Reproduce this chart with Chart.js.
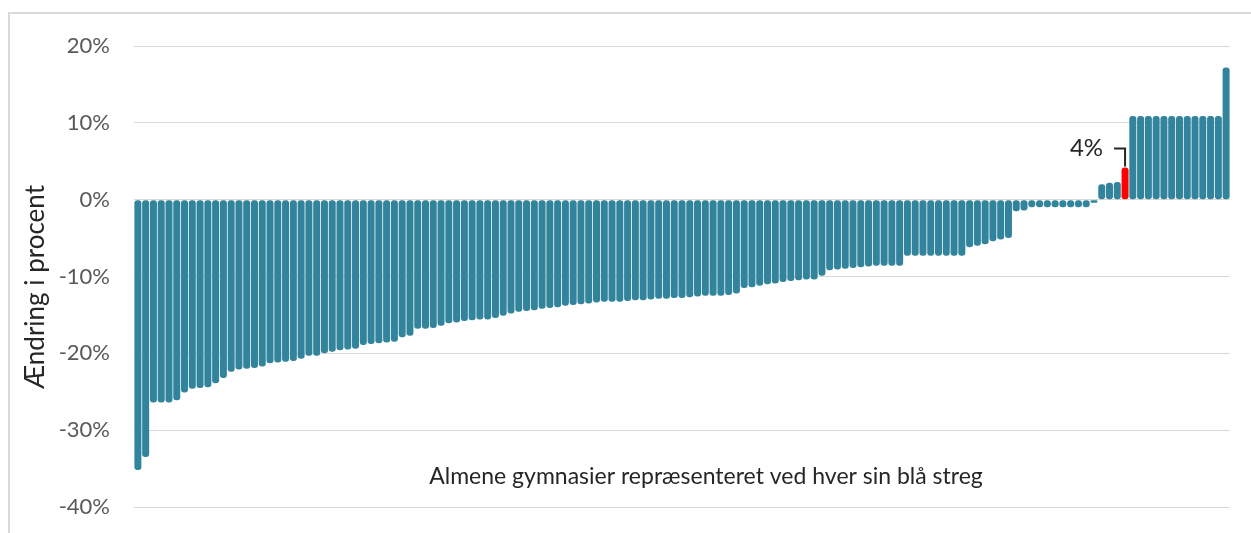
<!DOCTYPE html>
<html>
<head>
<meta charset="utf-8">
<script src="https://cdn.jsdelivr.net/npm/chart.js@4/dist/chart.umd.min.js"></script>
<style>
  html, body { margin: 0; padding: 0; background: #fff; overflow: hidden; }
  #frame { position: absolute; left: 8px; top: 12px; width: 1300px; height: 600px; border: 2px solid #d9d9d9; }
  #chartBox { position: absolute; left: 0; top: 0; width: 1251px; height: 533px; }
</style>
</head>
<body>
<div id="frame"></div>
<div id="chartBox"><canvas id="changeChart" width="1251" height="533"></canvas></div>
<script>
// Change per school in percent, sorted from lowest to highest
const changePct = [
  -35.2, -33.5, -26.4, -26.4, -26.4, -26.1, -25.1, -24.6, -24.5, -24.4,
  -23.9, -23.2, -22.4, -22.1, -22.0, -21.9, -21.7, -21.3, -21.2, -21.1,
  -21.0, -20.7, -20.3, -20.3, -20.0, -19.8, -19.6, -19.5, -19.4, -18.9,
  -18.8, -18.7, -18.6, -18.5, -17.9, -17.7, -16.8, -16.8, -16.7, -16.4,
  -16.1, -16.0, -15.8, -15.7, -15.6, -15.6, -15.4, -15.1, -14.8, -14.6,
  -14.5, -14.4, -14.2, -14.1, -14.0, -13.8, -13.7, -13.6, -13.5, -13.4,
  -13.3, -13.3, -13.3, -13.2, -13.1, -13.1, -13.0, -12.9, -12.9, -12.8,
  -12.8, -12.7, -12.6, -12.5, -12.5, -12.5, -12.4, -12.2, -11.5, -11.4,
  -11.2, -11.0, -10.9, -10.7, -10.6, -10.5, -10.4, -10.4, -9.9, -9.2,
  -9.1, -9.0, -8.9, -8.8, -8.7, -8.6, -8.6, -8.6, -8.6,
  -7.3, -7.3, -7.3, -7.3, -7.3, -7.3, -7.3, -7.3,
  -6.2, -6.0, -5.8, -5.4, -5.2, -5.0,
  -1.5, -1.4, -1.0, -1.0, -1.0, -1.0, -1.0, -1.0, -1.0, -1.0,
  -0.4,
  2.0, 2.2, 2.3,
  4.2,
  10.9, 10.9, 10.9, 10.9, 10.9, 10.9, 10.9, 10.9, 10.9, 10.9, 10.9, 10.9,
  17.2
];
const schools = changePct.map((v, i) => 'Gymnasium ' + (i + 1));
const highlightIndex = 127;       // the red school
const highlightLabel = '4%';
const yTicks = [-40, -30, -20, -10, 0, 10, 20];

const axisTitle = 'Ændring i procent';
const caption = 'Almene gymnasier repræsenteret ved hver sin blå streg';

const FONT = 'Lato, "Open Sans", sans-serif';

// Texts that are not part of the axes: y title, caption and the 4% callout
const extraText = {
  id: 'extraText',
  afterDatasetsDraw(chart) {
    const ctx = chart.ctx;
    const x = chart.scales.x;
    const y = chart.scales.y;
    ctx.save();

    // rotated y axis title
    ctx.fillStyle = '#262626';
    ctx.font = '26px ' + FONT;
    ctx.textAlign = 'center';
    ctx.textBaseline = 'middle';
    ctx.translate(36, 287);
    ctx.rotate(-Math.PI / 2);
    ctx.fillText(axisTitle, 0, 0);
    ctx.setTransform(1, 0, 0, 1, 0, 0);

    // caption inside the plot
    ctx.font = '23px ' + FONT;
    ctx.fillText(caption, 706, 477);

    // callout for the red bar
    const bx = x.getPixelForValue(highlightIndex);
    const by = y.getPixelForValue(changePct[highlightIndex]);
    ctx.strokeStyle = '#262626';
    ctx.lineWidth = 2;
    ctx.beginPath();
    ctx.moveTo(bx - 11, by - 19);
    ctx.lineTo(bx, by - 19);
    ctx.lineTo(bx, by - 1);
    ctx.stroke();
    ctx.font = '24px ' + FONT;
    ctx.textAlign = 'right';
    ctx.fillText(highlightLabel, bx - 22, by - 19);
    ctx.restore();
  }
};

document.addEventListener('DOMContentLoaded', function() {
  const ctx = document.getElementById('changeChart').getContext('2d');
  window.changeChart = new Chart(ctx, {
    type: 'bar',
    data: {
      labels: schools,
      datasets: [{
        data: changePct,
        backgroundColor: changePct.map((v, i) => i === highlightIndex ? '#ff0000' : '#31849b'),
        borderWidth: 0,
        borderRadius: 3,
        borderSkipped: false,
        barPercentage: 0.9,
        categoryPercentage: 1.0
      }]
    },
    options: {
      responsive: false,
      devicePixelRatio: 1,
      animation: false,
      layout: { padding: { top: 46, right: 21, bottom: 26, left: 0 } },
      plugins: { legend: { display: false }, tooltip: { enabled: false } },
      scales: {
        x: { display: false },
        y: {
          min: yTicks[0],
          max: yTicks[yTicks.length - 1],
          afterFit: function(scale) { scale.width = 134; },
          border: { display: false },
          // invisible tick marks keep the labels away from the plot
          grid: { color: '#d9d9d9', lineWidth: 1, drawTicks: true, tickLength: 24, tickColor: 'rgba(0,0,0,0)' },
          ticks: {
            stepSize: 10,
            padding: 0,
            color: '#595959',
            font: { family: FONT, size: 22 },
            callback: function(value) { return value + '%'; }
          }
        }
      }
    },
    plugins: [extraText]
  });
});
</script>
</body>
</html>
